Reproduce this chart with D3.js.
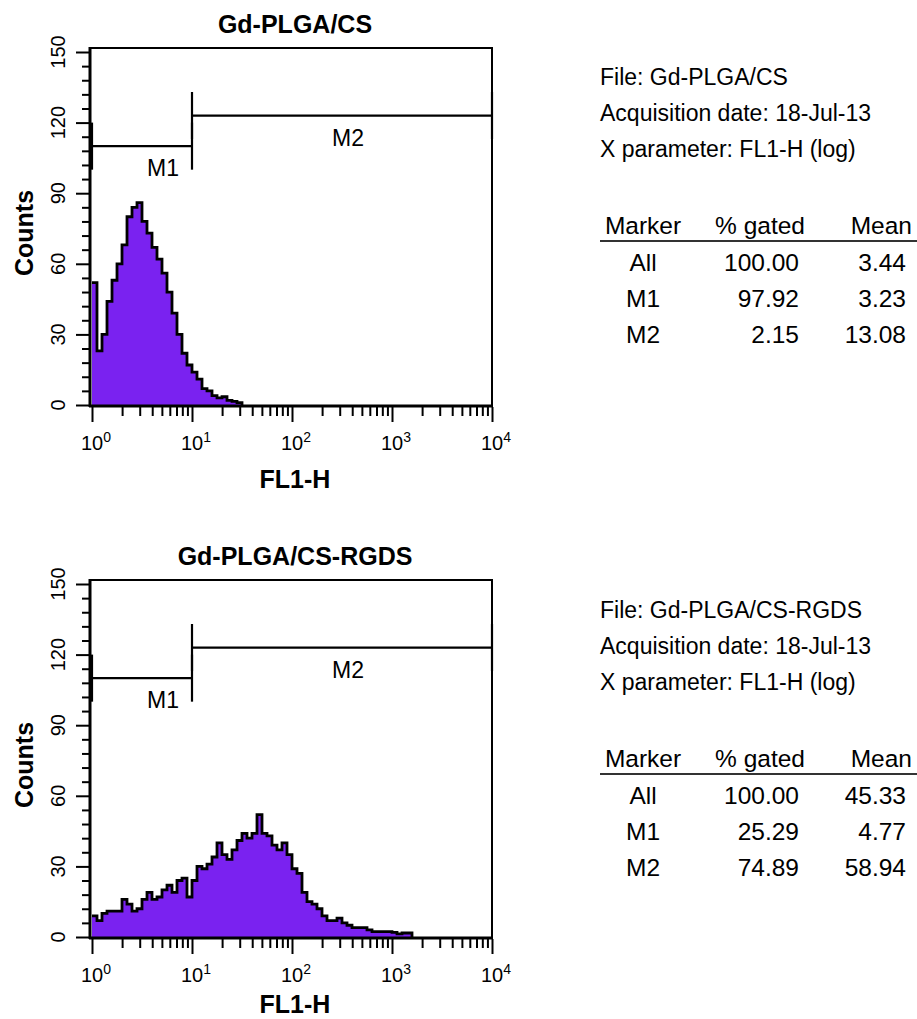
<!DOCTYPE html>
<html>
<head>
<meta charset="utf-8">
<script src="https://cdn.jsdelivr.net/npm/d3@7"></script>
<style>
html,body{margin:0;padding:0;background:#fff;}
svg{display:block;font-family:"Liberation Sans",Arial,Helvetica,sans-serif;}
</style>
</head>
<body>
<svg id="chart" width="917" height="1019"></svg>
<script>
// ---------------- data ----------------
const panelTitles = ["Gd-PLGA/CS", "Gd-PLGA/CS-RGDS"];
const fileNames = ["Gd-PLGA/CS", "Gd-PLGA/CS-RGDS"];
const acquisitionDate = "18-Jul-13";
const xParameter = "FL1-H (log)";
const xAxisTitle = "FL1-H";
const yAxisTitle = "Counts";

// histogram counts, 20 channels per decade starting at 10^0
const csCounts = [52, 23, 30, 44, 53, 60, 68, 80, 84, 86, 78, 73, 67, 62, 56, 48, 39, 30, 22, 17,
                  14, 11, 7, 6, 4, 3, 3.5, 2, 1.5, 1];
const rgdsCounts = [9, 7, 10, 11, 11, 11, 16, 14, 11, 12, 16, 19, 16, 17, 20, 22, 19, 24, 25, 17,
                    24, 30, 29, 31, 34, 40, 35, 33, 37, 41, 44, 42, 44, 52, 44, 43, 39, 37, 40, 35,
                    29, 27, 19, 15, 14, 12, 9, 7, 7, 8, 6, 5, 4, 4, 4, 3, 2.3, 2.3, 2.3, 2.3,
                    2, 1.3, 1.7, 1.7];
const channelsPerDecade = 20;

// markers
const markerNames = ["M1", "M2"];
const markerRanges = [[1, 10], [10, 10000]];
const markerLevels = [110, 123];

// statistics table
const tableHeader = ["Marker", "% gated", "Mean"];
const tableMarkers = ["All", "M1", "M2"];
const csGated = ["100.00", "97.92", "2.15"];
const csMean = ["3.44", "3.23", "13.08"];
const rgdsGated = ["100.00", "25.29", "74.89"];
const rgdsMean = ["45.33", "4.77", "58.94"];

// axes
const yMajorTicks = [0, 30, 60, 90, 120, 150];
const yMinorStep = 6;
const xDecadeExponents = [0, 1, 2, 3, 4];

// ---------------- drawing ----------------
const svg = d3.select("#chart");
svg.append("rect").attr("width", 917).attr("height", 1019).attr("fill", "#fff");

const FILL = "#7a22f0";
const panelOffset = 532;

function drawPanel(idx, counts, gated, mean) {
  const g = svg.append("g").attr("transform", `translate(0,${idx * panelOffset})`);
  const x = d3.scaleLog().domain([1, 1e4]).range([92, 492]);
  const y = d3.scaleLinear().domain([0, 150]).range([405, 52]);

  // histogram
  const pts = counts.map((c, i) => [Math.pow(10, i / channelsPerDecade), c]);
  pts.push([Math.pow(10, counts.length / channelsPerDecade), 0]);
  const area = d3.area().curve(d3.curveStepAfter)
    .x(d => x(d[0])).y0(y(0)).y1(d => y(d[1]));
  const line = d3.line().curve(d3.curveStepAfter)
    .x(d => x(d[0])).y(d => y(d[1]));
  g.append("path").attr("d", area(pts)).attr("fill", FILL);
  g.append("path").attr("d", line(pts)).attr("fill", "none")
    .attr("stroke", "#000").attr("stroke-width", 2.8).attr("stroke-linejoin", "miter");

  // frame
  g.append("rect").attr("x", 90).attr("y", 48).attr("width", 402).attr("height", 358)
    .attr("fill", "none").attr("stroke", "#000").attr("stroke-width", 2);
  g.append("line").attr("x1", 90).attr("x2", 90).attr("y1", 47).attr("y2", 407)
    .attr("stroke", "#000").attr("stroke-width", 3);
  g.append("line").attr("x1", 89).attr("x2", 493).attr("y1", 406).attr("y2", 406)
    .attr("stroke", "#000").attr("stroke-width", 3);

  // y axis ticks
  const yMinor = d3.range(0, 151, yMinorStep).filter(v => !yMajorTicks.includes(v));
  const yAxMaj = d3.axisLeft(y).tickValues(yMajorTicks).tickSize(14).tickFormat("");
  const yAxMin = d3.axisLeft(y).tickValues(yMinor).tickSize(8).tickFormat("");
  [yAxMaj, yAxMin].forEach(ax => {
    const a = g.append("g").attr("transform", "translate(90,0)").call(ax);
    a.select(".domain").remove();
    a.selectAll(".tick line").attr("stroke", "#000").attr("stroke-width", 2);
  });
  g.selectAll(null).data(yMajorTicks).enter().append("text")
    .attr("transform", d => `translate(65,${y(d)}) rotate(-90)`)
    .attr("text-anchor", "middle").attr("font-size", 20).attr("fill", "#000")
    .text(d => d);

  // x axis ticks
  const decades = xDecadeExponents.map(e => Math.pow(10, e));
  const xMinor = x.ticks().filter(v => !decades.some(d => Math.abs(d - v) < 1e-9));
  const xAxMaj = d3.axisBottom(x).tickValues(decades).tickSize(15).tickFormat("");
  const xAxMin = d3.axisBottom(x).tickValues(xMinor).tickSize(9).tickFormat("");
  [xAxMaj, xAxMin].forEach(ax => {
    const a = g.append("g").attr("transform", "translate(0,407)").call(ax);
    a.select(".domain").remove();
    a.selectAll(".tick line").attr("stroke", "#000").attr("stroke-width", 2);
  });
  const xl = g.selectAll(null).data(xDecadeExponents).enter().append("text")
    .attr("x", d => x(Math.pow(10, d)) - 11).attr("y", 450)
    .attr("font-size", 20).attr("fill", "#000");
  xl.append("tspan").text("10");
  xl.append("tspan").attr("font-size", 14).attr("dy", -8).text(d => d);

  // axis titles and panel title
  g.append("text").attr("x", 295).attr("y", idx === 0 ? 488 : 481).attr("text-anchor", "middle")
    .attr("font-size", 25).attr("font-weight", "bold").text(xAxisTitle);
  g.append("text").attr("transform", "translate(33,233) rotate(-90)").attr("text-anchor", "middle")
    .attr("font-size", 25).attr("font-weight", "bold").text(yAxisTitle);
  g.append("text").attr("x", 295).attr("y", 33).attr("text-anchor", "middle")
    .attr("font-size", 25).attr("font-weight", "bold").text(panelTitles[idx]);

  // markers
  const labelDx = [21, 6];
  markerNames.forEach((name, i) => {
    const [a, b] = markerRanges[i];
    const lv = markerLevels[i];
    const mg = g.append("g").attr("stroke", "#000").attr("stroke-width", 2.2);
    mg.append("line").attr("x1", x(a)).attr("x2", x(b)).attr("y1", y(lv)).attr("y2", y(lv));
    mg.append("line").attr("x1", x(a)).attr("x2", x(a)).attr("y1", y(lv + 10)).attr("y2", y(lv - 10));
    mg.append("line").attr("x1", x(b)).attr("x2", x(b)).attr("y1", y(lv + 10)).attr("y2", y(lv - 10));
    const mid = Math.sqrt(a * b);
    g.append("text").attr("x", x(mid) + labelDx[i]).attr("y", y(lv) + 30)
      .attr("text-anchor", "middle").attr("font-size", 23).attr("fill", "#000").text(name);
  });

  // info text
  const info = ["File: " + fileNames[idx], "Acquisition date: " + acquisitionDate, "X parameter: " + xParameter];
  info.forEach((t, i) => {
    g.append("text").attr("x", 600).attr("y", 85 + idx + i * 36).attr("font-size", 23)
      .attr("fill", "#000").text(t);
  });

  // table
  const TF = 24.5;
  const ty = 234 + idx;
  const hx = [{x: 643, a: "middle"}, {x: 805, a: "end"}, {x: 912, a: "end"}];
  tableHeader.forEach((h, i) => {
    g.append("text").attr("x", hx[i].x).attr("y", ty).attr("text-anchor", hx[i].a)
      .attr("font-size", TF).attr("fill", "#000").text(h);
  });
  g.append("line").attr("x1", 600).attr("x2", 917).attr("y1", ty + 7).attr("y2", ty + 7)
    .attr("stroke", "#333").attr("stroke-width", 2);
  tableMarkers.forEach((m, r) => {
    const yy = ty + 37 + r * 36;
    g.append("text").attr("x", 643).attr("y", yy).attr("text-anchor", "middle")
      .attr("font-size", TF).attr("fill", "#000").text(m);
    g.append("text").attr("x", 799).attr("y", yy).attr("text-anchor", "end")
      .attr("font-size", TF).attr("fill", "#000").text(gated[r]);
    g.append("text").attr("x", 906).attr("y", yy).attr("text-anchor", "end")
      .attr("font-size", TF).attr("fill", "#000").text(mean[r]);
  });
}

drawPanel(0, csCounts, csGated, csMean);
drawPanel(1, rgdsCounts, rgdsGated, rgdsMean);
</script>
</body>
</html>
